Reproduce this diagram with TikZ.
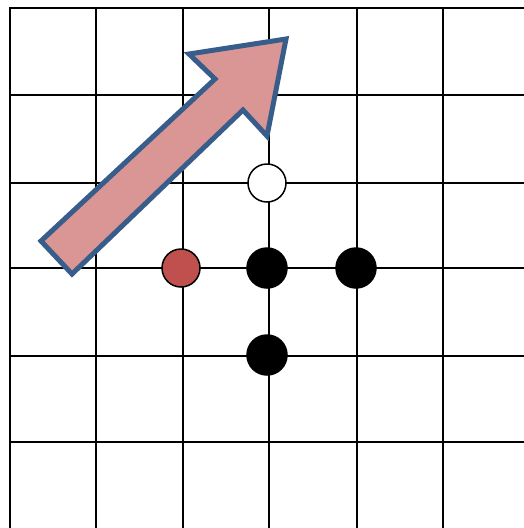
\documentclass[tikz,border=0pt]{standalone}
\usetikzlibrary{positioning}
\definecolor{arrowfill}{HTML}{D99694}
\definecolor{arrowedge}{HTML}{385D8A}
\definecolor{redstone}{HTML}{C0504D}

\begin{document}
\begin{tikzpicture}[x=1pt,y=-1pt,
  gridline/.style={line width=2pt,line cap=rect},
  stone/.style={circle,draw=black,line width=1.5pt,minimum size=38pt,inner sep=0pt},
  blackstone/.style={stone,fill=black,minimum size=40pt},
  whitestone/.style={stone,fill=white},
  redstonenode/.style={stone,fill=redstone}]
  \useasboundingbox (0,0) rectangle (524,528);

  % Board
  \foreach \x in {10,96,183,269,357,443}
    \draw[gridline] (\x,8) -- (\x,530);
  \foreach \y in {8,95,183,268,356,442}
    \draw[gridline] (10,\y) -- (526,\y);

  % Big arrow
  \draw[arrowedge,fill=arrowfill,line width=5pt,line join=miter]
    (41,241) -- (215,79) -- (189,54) -- (286,39) -- (267,136)
    -- (243,110) -- (72,274) -- cycle;

  % Stones
  \node[whitestone] (w1) at (267,183) {};
  \node[redstonenode] (r1) at (181,268) {};
  \node[blackstone] (b1) at (267,268) {};
  \node[blackstone] (b2) at (356,268) {};
  \node[blackstone] (b3) at (267,355) {};
\end{tikzpicture}
\end{document}
